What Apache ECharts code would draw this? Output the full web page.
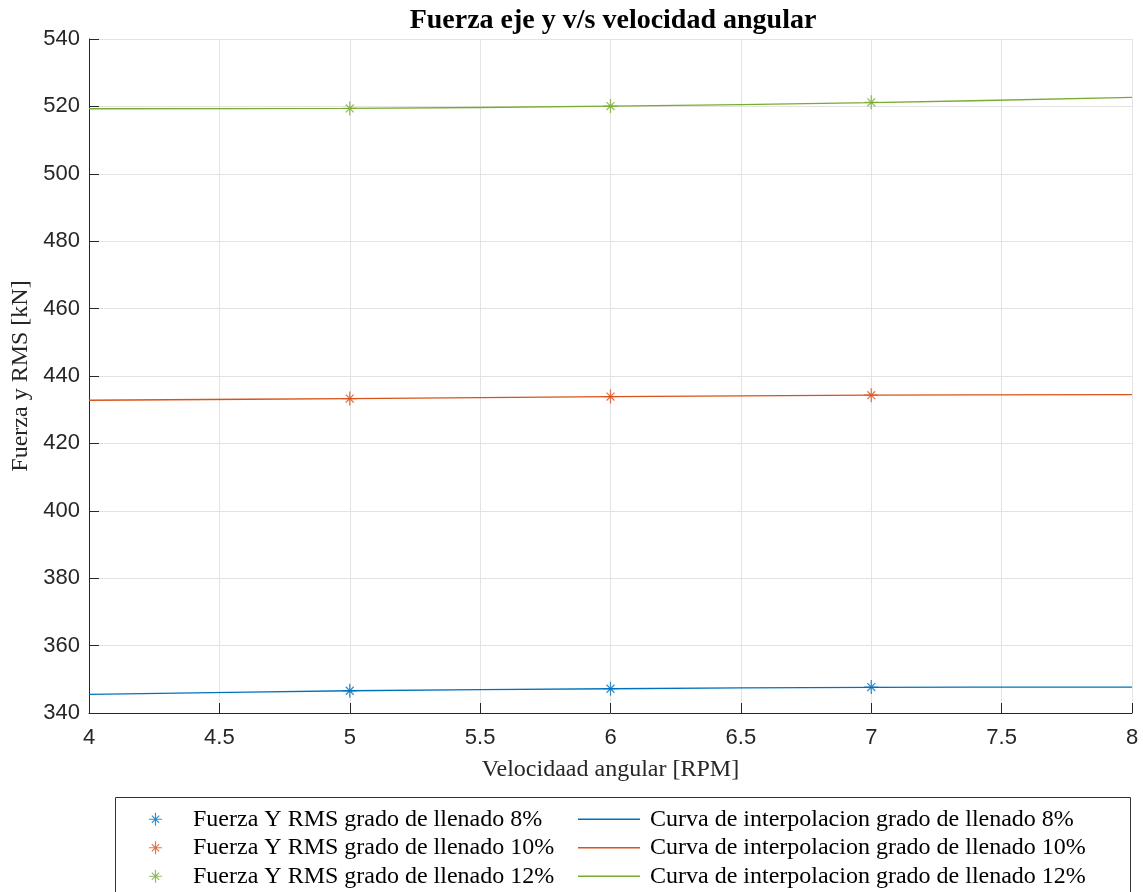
<!DOCTYPE html>
<html>
<head>
<meta charset="utf-8">
<script src="https://cdn.jsdelivr.net/npm/echarts@6/dist/echarts.min.js"></script>
<style>
  html, body { margin: 0; padding: 0; background: #ffffff; }
  #chart { width: 1143px; height: 892px; }
</style>
</head>
<body>
<div id="chart"></div>
<script>
// Angular speed [RPM]
const rpmMeasured = [5, 6, 7];
const rpmCurve = [4, 5, 6, 7, 8];

// RMS force on the y axis [kN], measured points per filling degree
const force8 = [346.6, 347.2, 347.7];
const force10 = [433.3, 433.9, 434.3];
const force12 = [519.4, 520.1, 521.2];

// Interpolation curves through the same filling degrees
const curve8 = [345.5, 346.6, 347.2, 347.6, 347.7];
const curve10 = [432.8, 433.3, 433.9, 434.3, 434.5];
const curve12 = [519.3, 519.4, 520.1, 521.1, 522.7];

const pointNames = [
  'Fuerza Y RMS grado de llenado 8%',
  'Fuerza Y RMS grado de llenado 10%',
  'Fuerza Y RMS grado de llenado 12%'
];
const curveNames = [
  'Curva de interpolacion grado de llenado 8%',
  'Curva de interpolacion grado de llenado 10%',
  'Curva de interpolacion grado de llenado 12%'
];

const colors = ['#0072BD', '#D95319', '#77AC30'];

// Asterisk marker: "+" and "x" strokes built as thin filled bars
function asteriskPath() {
  const c = 10, w = 0.9;
  const arms = [[0, 10], [90, 10], [45, 8], [135, 8]];
  let d = '';
  arms.forEach(([deg, len]) => {
    const a = deg * Math.PI / 180;
    const dx = Math.cos(a), dy = Math.sin(a);
    const nx = -dy, ny = dx;
    const p = [
      [c + dx * len + nx * w, c + dy * len + ny * w],
      [c - dx * len + nx * w, c - dy * len + ny * w],
      [c - dx * len - nx * w, c - dy * len - ny * w],
      [c + dx * len - nx * w, c + dy * len - ny * w]
    ];
    d += 'M' + p.map(q => q[0].toFixed(3) + ',' + q[1].toFixed(3)).join(' L') + ' Z ';
  });
  return 'path://' + d;
}
const starSymbol = asteriskPath();

const pointSets = [force8, force10, force12];
const curveSets = [curve8, curve10, curve12];

const series = [];
pointSets.forEach((vals, i) => {
  series.push({
    name: pointNames[i],
    type: 'scatter',
    symbol: starSymbol,
    symbolSize: 14,
    itemStyle: { color: colors[i] },
    data: rpmMeasured.map((x, k) => [x, vals[k]]),
    z: 4
  });
});
curveSets.forEach((vals, i) => {
  series.push({
    name: curveNames[i],
    type: 'line',
    smooth: 0.35,
    showSymbol: false,
    lineStyle: { color: colors[i], width: 1.3 },
    itemStyle: { color: colors[i] },
    data: rpmCurve.map((x, k) => [x, vals[k]]),
    z: 3
  });
});

const serif = '"Liberation Serif", "DejaVu Serif", serif';
const sans = '"Liberation Sans", Arial, sans-serif';
const axisColor = '#262626';

const chart = echarts.init(document.getElementById('chart'), null, { renderer: 'canvas' });
chart.setOption({
  backgroundColor: '#ffffff',
  animation: false,
  title: {
    text: 'Fuerza eje y v/s velocidad angular',
    left: 608, textAlign: 'center', top: 2,
    textStyle: { fontFamily: serif, fontSize: 28, fontWeight: 'bold', color: '#000000' }
  },
  grid: { left: 89, right: 11, top: 39, bottom: 179, containLabel: false },
  xAxis: {
    type: 'value', min: 4, max: 8, interval: 0.5,
    name: 'Velocidaad angular [RPM]', nameLocation: 'middle', nameGap: 45,
    nameTextStyle: { fontFamily: serif, fontSize: 24, color: axisColor },
    axisLine: { show: true, onZero: false, lineStyle: { color: axisColor, width: 1 } },
    axisTick: { show: true, inside: true, length: 10, lineStyle: { color: axisColor } },
    axisLabel: { fontFamily: sans, fontSize: 22, color: axisColor, margin: 14 },
    splitLine: { show: true, lineStyle: { color: '#e3e3e3', width: 1 } }
  },
  yAxis: {
    type: 'value', min: 340, max: 540, interval: 20,
    name: 'Fuerza y RMS [kN]', nameLocation: 'middle', nameGap: 55,
    nameTextStyle: { fontFamily: serif, fontSize: 24, color: axisColor },
    axisLine: { show: true, onZero: false, lineStyle: { color: axisColor, width: 1 } },
    axisTick: { show: true, inside: true, length: 10, lineStyle: { color: axisColor } },
    axisLabel: { fontFamily: sans, fontSize: 22, color: axisColor, margin: 9 },
    splitLine: { show: true, lineStyle: { color: '#e3e3e3', width: 1 } }
  },
  graphic: [{
    type: 'rect', left: 115, top: 797,
    shape: { width: 1015, height: 110 },
    style: { fill: '#ffffff', stroke: '#333333', lineWidth: 1 },
    z: 0
  }],
  legend: [
    {
      data: pointNames, orient: 'vertical', left: 149, top: 805, height: 200, padding: 0,
      itemWidth: 13, itemHeight: 13, itemGap: 0,
      icon: starSymbol,
      textStyle: { fontFamily: serif, fontSize: 24, color: '#000000', lineHeight: 28.5, padding: [0, 0, 0, 26] },
      z: 5
    },
    {
      data: curveNames, orient: 'vertical', left: 578, top: 805, height: 200, padding: 0,
      itemWidth: 62, itemHeight: 1.5, itemGap: 0,
      icon: 'rect',
      textStyle: { fontFamily: serif, fontSize: 24, color: '#000000', lineHeight: 28.5, padding: [0, 0, 0, 5] },
      z: 5
    }
  ],
  series: series
});
</script>
</body>
</html>
